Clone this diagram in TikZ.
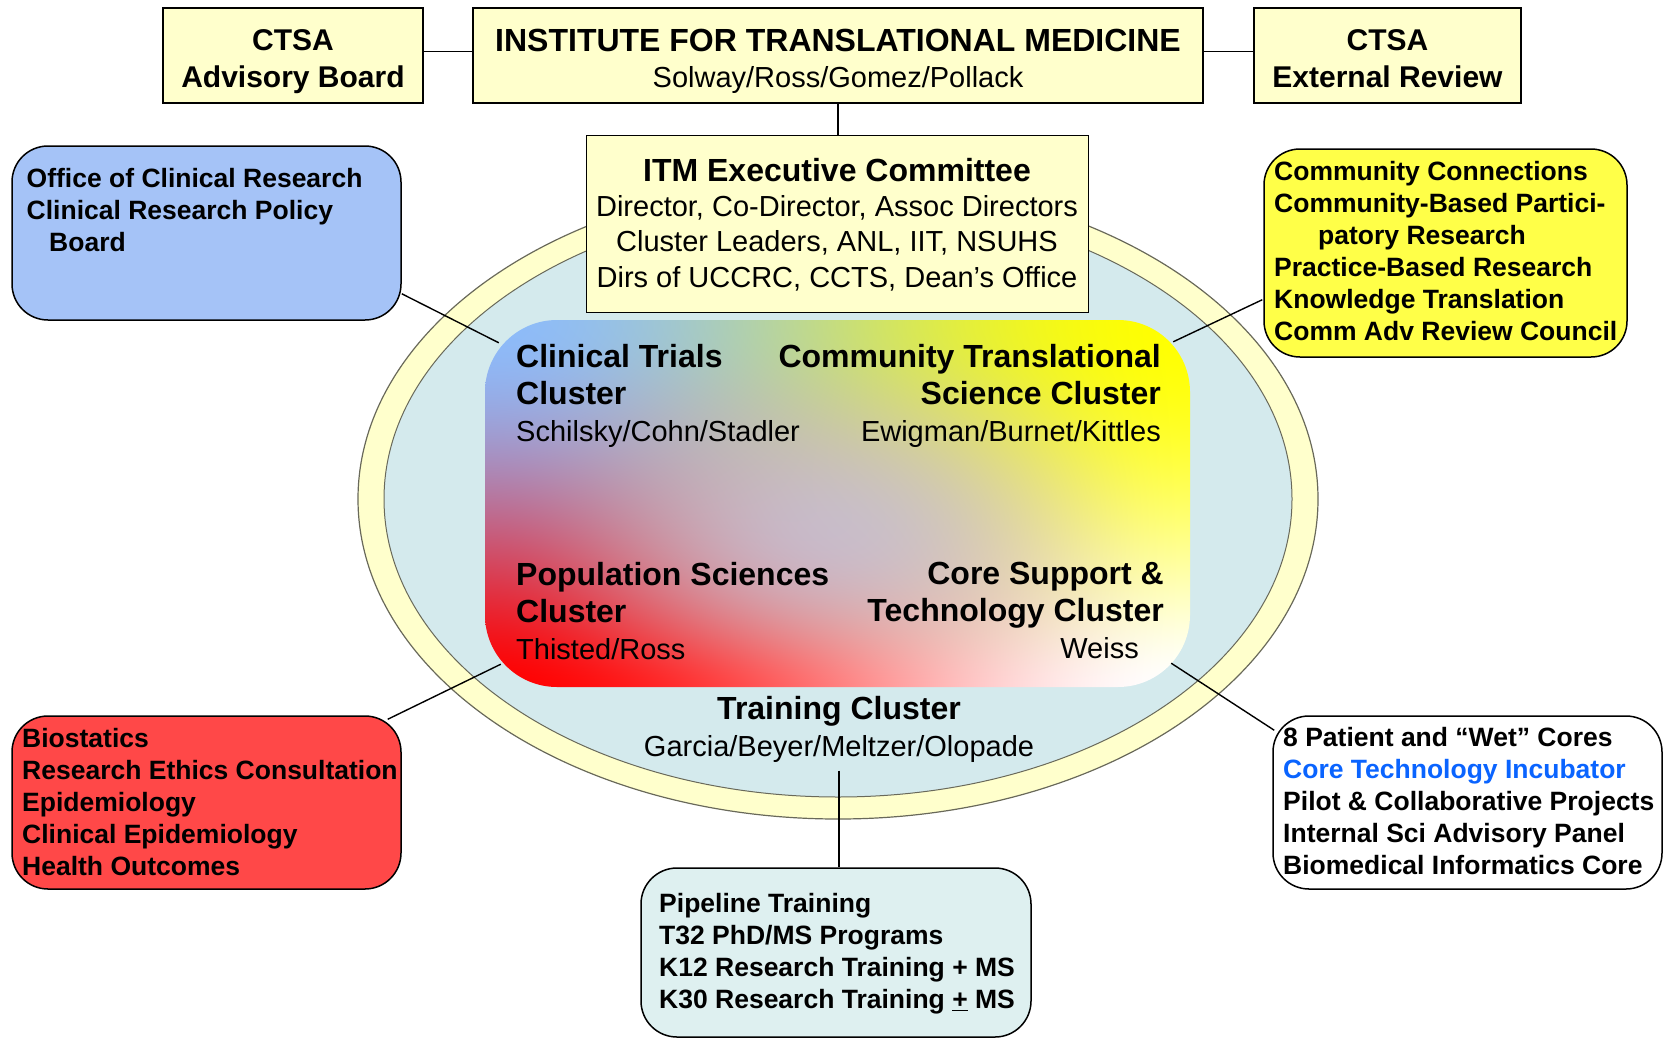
\documentclass[tikz,border=0pt]{standalone}
\usepackage{fontspec}
\setmainfont{Liberation Sans}
\usetikzlibrary{calc}

\definecolor{itmcream}{RGB}{255,255,204}
\definecolor{ringblue}{RGB}{212,234,237}
\definecolor{ringedge}{RGB}{105,105,90}
\definecolor{officeblue}{RGB}{165,195,247}
\definecolor{ccyellow}{RGB}{255,255,72}
\definecolor{popred}{RGB}{255,72,72}
\definecolor{trainblue}{RGB}{222,240,240}
\definecolor{incubblue}{RGB}{10,100,255}

% azul, amarelo, vermelho e branco nos cantos, lilas no meio
\pgfdeclarefunctionalshading{clustergrad}{\pgfpoint{0bp}{0bp}}{\pgfpoint{100bp}{100bp}}{}{
  25 sub 50 div dup 0 lt {pop 0} if dup 1 gt {pop 1} if 0.8 exp dup dup mul exch 2 mul 3 exch sub mul
  exch 25 sub 50 div dup dup mul exch 2 mul 3 exch sub mul exch
  1 index dup 1 exch sub mul 4 mul 1 index dup 1 exch sub mul 4 mul mul 0.8 mul
  2 index 0 mul 1 add 3 index 0.447 mul 0.553 add 1 index sub 3 index mul add 0.76 1 index sub 2 index mul add 4 1 roll
  2 index 1 mul 0 add 3 index 0.267 mul 0.733 add 1 index sub 3 index mul add 0.75 1 index sub 2 index mul add 4 1 roll
  2 index 1 mul 0 add 3 index -0.98 mul 0.98 add 1 index sub 3 index mul add 0.86 1 index sub 2 index mul add 4 1 roll
  pop pop pop
}

\newcommand{\fsz}[2]{\fontsize{#1}{#2}\selectfont}
\newcommand{\clhd}[1]{{\fsz{32}{38}\bfseries #1}}

\begin{document}
\begin{tikzpicture}[x=1pt,y=-1pt]
  \tikzstyle{topbox}=[draw=black, line width=1.6pt, fill=itmcream, inner sep=0pt]
  \tikzstyle{listbox}=[draw=black, line width=1.5pt, rounded corners=36pt, inner sep=0pt]
  \tikzstyle{listtxt}=[anchor=north west, align=left, inner sep=0pt, font=\fsz{26.5}{32}\bfseries]
  \tikzstyle{clhead}=[inner sep=0pt, font=\fsz{29}{37}]
  \tikzstyle{conn}=[black, line width=1.4pt]

  \useasboundingbox (0,0) rectangle (1665,1039);

  % anel em volta dos clusters
  \draw[ringedge, line width=1.2pt, fill=itmcream] (838,499) ellipse [x radius=480, y radius=320];
  \draw[ringedge, line width=1pt, fill=ringblue] (838,499) ellipse [x radius=454, y radius=298];

  % bloco com gradiente
  \node[minimum width=705, minimum height=367, rounded corners=72pt, inner sep=0pt,
        shading=clustergrad, shade] (clusters) at (837.5,503.5) {};
  \node[clhead, anchor=north west, align=left] (ctlbl) at (516,344) {\clhd{Clinical Trials}\\\clhd{Cluster}\\Schilsky/Cohn/Stadler};
  \node[clhead, anchor=north east, align=right] (ctslbl) at (1161,344) {\clhd{Community Translational}\\\clhd{Science Cluster}\\Ewigman/Burnet/Kittles};
  \node[clhead, anchor=north west, align=left] (pslbl) at (516,562) {\clhd{Population Sciences}\\\clhd{Cluster}\\Thisted/Ross};
  \node[clhead, anchor=north east, align=right] (cslbl) at (1164,562) {\clhd{Core Support \&}\\\clhd{Technology Cluster}\\Weiss\hspace*{25pt}};
  \node[clhead, anchor=north, align=center] (trainlbl) at (839,696) {\clhd{Training Cluster}\\Garcia/Beyer/Meltzer/Olopade};

  % comite executivo
  \node[draw=black, line width=1pt, fill=itmcream, minimum width=502, minimum height=177] (exec) at (837,223.5) {};
  \node[clhead, anchor=north, align=center, font=\fsz{29}{35.3}] (execlbl) at (837,158)
    {\clhd{ITM Executive Committee}\\Director, Co-Director, Assoc Directors\\Cluster Leaders, ANL, IIT, NSUHS\\Dirs of UCCRC, CCTS, Dean’s Office};

  % caixas do topo
  \node[topbox, minimum width=260, minimum height=95] (advboard) at (293,55.5) {};
  \node[clhead, anchor=north, align=center, font=\fsz{30}{37.5}\bfseries] at (293,29) {CTSA\\Advisory Board};
  \node[topbox, minimum width=730, minimum height=95] (itm) at (838,55.5) {};
  \node[clhead, anchor=north, align=center, font=\fsz{29}{36.5}] at (838,28.5) {\clhd{INSTITUTE FOR TRANSLATIONAL MEDICINE}\\Solway/Ross/Gomez/Pollack};
  \node[topbox, minimum width=267, minimum height=95] (extreview) at (1387.5,55.5) {};
  \node[clhead, anchor=north, align=center, font=\fsz{30}{37.5}\bfseries] at (1387.5,29) {CTSA\\External Review};
  \draw[conn] ([yshift=4pt]advboard.east) -- ([yshift=4pt]itm.west);
  \draw[conn] ([yshift=4pt]itm.east) -- ([yshift=4pt]extreview.west);
  \draw[conn] (itm.south) -- (itm.south |- exec.north);

  % caixas laterais
  \node[listbox, fill=officeblue, minimum width=389, minimum height=174] (office) at (206.5,233) {};
  \node[listtxt] at (26.5,168) {Office of Clinical Research\\Clinical Research Policy\\\hspace*{22.5pt}Board};
  \node[listbox, fill=ccyellow, minimum width=363, minimum height=208] (ccbox) at (1445.5,253) {};
  \node[listtxt] at (1274,161) {Community Connections\\Community-Based Partici-\\\hspace*{44pt}patory Research\\Practice-Based Research\\Knowledge Translation\\Comm Adv Review Council};
  \node[listbox, fill=popred, minimum width=389, minimum height=173] (redbox) at (206.5,802.5) {};
  \node[listtxt] at (22,728) {Biostatics\\Research Ethics Consultation\\Epidemiology\\Clinical Epidemiology\\Health Outcomes};
  \node[listbox, fill=white, minimum width=389, minimum height=173] (corebox) at (1467.5,802.5) {};
  \node[listtxt] at (1283,727) {8 Patient and “Wet” Cores\\\textcolor{incubblue}{Core Technology Incubator}\\Pilot \& Collaborative Projects\\Internal Sci Advisory Panel\\Biomedical Informatics Core};
  \node[listbox, fill=trainblue, minimum width=390, minimum height=169] (trainbox) at (836,952.5) {};
  \node[listtxt] at (659,893) {Pipeline Training\\T32 PhD/MS Programs\\K12 Research Training + MS\\K30 Research Training \underline{+} MS};

  % ligacoes
  \draw[conn] ($(office.south east)+(0,-27)$) -- ($(clusters.north west)+(14,23)$);
  \draw[conn] ($(ccbox.south west)+(-1,-58)$) -- ($(clusters.north east)+(-17,22)$);
  \draw[conn] ($(redbox.north east)+(-14,4)$) -- ($(clusters.south west)+(16,-23)$);
  \draw[conn] ($(corebox.north west)+(2,15)$) -- ($(clusters.south east)+(-19,-24)$);
  \draw[conn, shorten <=8pt] (trainlbl.south) -- (trainlbl.south |- trainbox.north);
\end{tikzpicture}
\end{document}
